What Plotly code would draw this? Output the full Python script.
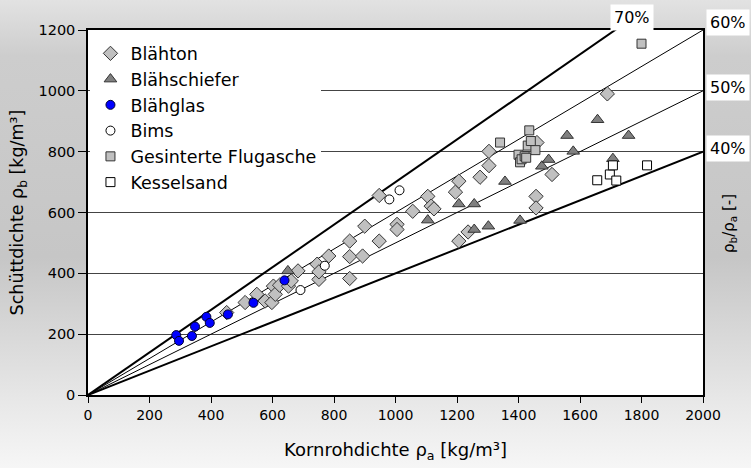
import base64
import plotly.graph_objects as go

# ---------------- data ----------------
blaehton_x = [451, 511, 549, 576, 598, 603, 609, 623, 652, 661, 683, 745, 751, 751, 783, 851, 851, 893, 851, 900,
              947, 947, 1005, 1005, 1056, 1105, 1116, 1125, 1195, 1206, 1206, 1236, 1275, 1304, 1304, 1457, 1457,
              1509, 1460, 1689]
blaehton_y = [271, 304, 331, 309, 304, 358, 331, 361, 358, 375, 408, 430, 380, 405, 457, 383, 455, 457, 506, 555,
              656, 506, 561, 544, 604, 653, 621, 612, 667, 703, 506, 536, 716, 754, 801, 653, 615,
              725, 830, 990]

schiefer_x = [650, 1105, 1206, 1256, 1256, 1302, 1356, 1405, 1476, 1498, 1558, 1578, 1657, 1707, 1758]
schiefer_y = [408, 575, 628, 628, 544, 555, 702, 574, 752, 774, 853, 801, 905, 777, 853]

glas_x = [287, 296, 338, 348, 385, 396, 455, 538, 639]
glas_y = [197, 178, 194, 225, 257, 237, 265, 303, 377]

bims_x = [691, 770, 980, 1013]
bims_y = [345, 425, 643, 673]

flug_x = [1340, 1400, 1405, 1410, 1420, 1425, 1430, 1435, 1440, 1455, 1800]
flug_y = [830, 790, 765, 775, 785, 780, 820, 870, 835, 805, 1155]

kessel_x = [1656, 1697, 1718, 1707, 1818]
kessel_y = [706, 725, 705, 755, 755]

ratios = [0.7, 0.6, 0.5, 0.4]
ratio_labels = ["70%", "60%", "50%", "40%"]
ratio_line_x = [0, 2000]

x_ticks = list(range(0, 2001, 200))
y_ticks = list(range(0, 1201, 200))

FONT = "DejaVu Sans"

fig = go.Figure()

# ratio lines
for r in ratios:
    fig.add_trace(go.Scatter(
        x=ratio_line_x, y=[r * v for v in ratio_line_x], mode="lines",
        line=dict(color="black", width=2 if r in (0.7, 0.4) else 1),
        showlegend=False, hoverinfo="skip"))

def add_series(name, xs, ys, symbol, fill, size, line_color="#333333"):
    fig.add_trace(go.Scatter(
        x=xs, y=ys, mode="markers", name=name,
        marker=dict(symbol=symbol, color=fill, size=size,
                    line=dict(color=line_color, width=1))))

add_series("Blähton", blaehton_x, blaehton_y, "diamond", "#c0c0c0", 11)
add_series("Blähschiefer", schiefer_x, schiefer_y, "triangle-up", "#808080", 11)
add_series("Blähglas", glas_x, glas_y, "circle", "#0000ff", 9, "#000033")
add_series("Bims", bims_x, bims_y, "circle", "#ffffff", 9, "#000000")
add_series("Gesinterte Flugasche", flug_x, flug_y, "square", "#c0c0c0", 9)
add_series("Kesselsand", kessel_x, kessel_y, "square", "#ffffff", 9, "#000000")

# background gradient
svg = ('<svg xmlns="http://www.w3.org/2000/svg" width="751" height="468">'
       '<defs><linearGradient id="g" x1="0" y1="0" x2="0" y2="1">'
       '<stop offset="0" stop-color="#e2e2e2"/>'
       '<stop offset="0.12" stop-color="#cdcdcd"/>'
       '<stop offset="0.55" stop-color="#c6c6c6"/>'
       '<stop offset="0.86" stop-color="#e8e8e8"/>'
       '<stop offset="1" stop-color="#f6f6f6"/>'
       '</linearGradient></defs>'
       '<rect width="751" height="468" fill="url(#g)"/></svg>')
src = "data:image/svg+xml;base64," + base64.b64encode(svg.encode()).decode()

L, R, T, B = 88, 48, 30, 73
PW, PH = 751 - L - R, 468 - T - B

fig.add_layout_image(dict(
    source=src, xref="paper", yref="paper",
    x=-L / PW, y=1 + T / PH, sizex=751 / PW, sizey=468 / PH,
    xanchor="left", yanchor="top", sizing="stretch", layer="below"))

fig.add_shape(type="rect", xref="paper", yref="paper", x0=0, x1=1, y0=0, y1=1,
              fillcolor="white", line=dict(width=0), layer="below")

# ratio labels
lab_font = dict(family=FONT, size=16, color="black")
common = dict(showarrow=False, font=lab_font, bgcolor="white", borderpad=3,
              xanchor="center", yanchor="middle")
fig.add_annotation(text=ratio_labels[0], xref="x", yref="paper", x=1770, y=1 + 13 / PH, **common)
fig.add_annotation(text=ratio_labels[1], xref="paper", yref="paper", x=(728 - L) / PW, y=1 + 8 / PH, **common)
fig.add_annotation(text=ratio_labels[2], xref="paper", yref="y", x=(728 - L) / PW, y=1012, **common)
fig.add_annotation(text=ratio_labels[3], xref="paper", yref="y", x=(728 - L) / PW, y=812, **common)

# right axis title
fig.add_annotation(text="ρ<sub>b</sub>/ρ<sub>a</sub> [-]", xref="paper", yref="paper",
                   x=(729 - L) / PW, y=(395 - 224) / PH, textangle=-90, showarrow=False,
                   xanchor="center", yanchor="middle",
                   font=dict(family=FONT, size=15, color="black"))

fig.update_layout(
    width=751, height=468,
    margin=dict(l=L, r=R, t=T, b=B),
    paper_bgcolor="#e0e0e0", plot_bgcolor="rgba(0,0,0,0)",
    font=dict(family=FONT, color="black"),
    legend=dict(x=0.004, y=0.985, xanchor="left", yanchor="top",
                bgcolor="white", borderwidth=0,
                font=dict(family=FONT, size=17.5, color="black"),
                itemwidth=30, tracegroupgap=0),
    xaxis=dict(range=[0, 2000], tickvals=x_ticks, ticks="outside", ticklen=6,
               tickcolor="black", showgrid=False, zeroline=False,
               showline=True, linecolor="black", linewidth=1.5, mirror=True,
               tickfont=dict(family=FONT, size=14),
               title=dict(text="Kornrohdichte ρ<sub>a</sub> [kg/m³]",
                          font=dict(family=FONT, size=18), standoff=22)),
    yaxis=dict(range=[0, 1200], tickvals=y_ticks, ticks="outside", ticklen=8,
               tickcolor="black", showgrid=True, gridcolor="#444444", gridwidth=1,
               zeroline=False, showline=True, linecolor="black", linewidth=1.5, mirror=True,
               tickfont=dict(family=FONT, size=14.5),
               title=dict(text="Schüttdichte ρ<sub>b</sub> [kg/m³]",
                          font=dict(family=FONT, size=17.5), standoff=10)),
)

fig.write_html("out.html")
